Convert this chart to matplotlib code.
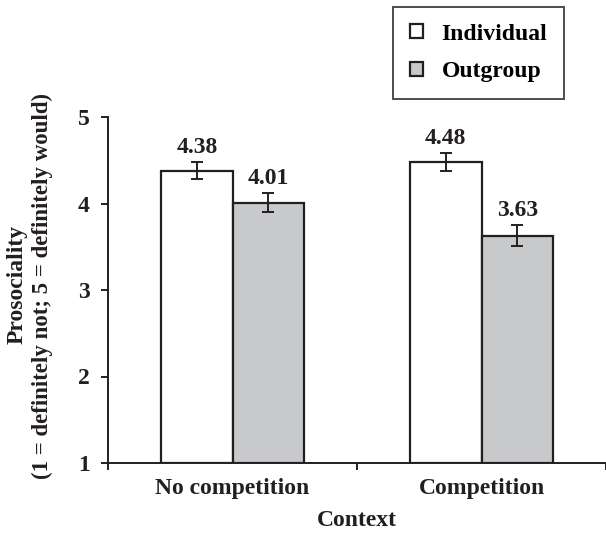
import matplotlib
matplotlib.use('Agg')
from matplotlib import pyplot as plt
from matplotlib.patches import Patch
import numpy as np

contexts = ['No competition', 'Competition']
individual = [4.38, 4.48]
outgroup = [4.01, 3.63]
individual_err = [0.10, 0.10]
outgroup_err = [0.11, 0.12]

plt.rcParams['font.family'] = ['Liberation Serif', 'DejaVu Serif']
plt.rcParams['font.weight'] = 'bold'
ink = '#231f20'
grey = '#c8c9cb'
fs = 17

fig = plt.figure(figsize=(6.06, 5.33), dpi=100)
ax = fig.add_axes([108 / 606, 70 / 533, 498 / 606, 346 / 533])

x = np.arange(len(contexts))
w = 0.287
ax.bar(x - w / 2, np.array(individual) - 1, w, bottom=1, color='white', edgecolor=ink, linewidth=1.6)
ax.bar(x + w / 2, np.array(outgroup) - 1, w, bottom=1, color=grey, edgecolor=ink, linewidth=1.6)
ax.errorbar(x - w / 2, individual, yerr=individual_err, fmt='none', ecolor=ink, elinewidth=1.4, capsize=4.5, capthick=1.4)
ax.errorbar(x + w / 2, outgroup, yerr=outgroup_err, fmt='none', ecolor=ink, elinewidth=1.4, capsize=4.5, capthick=1.4)

for xs, vals, errs in [(x - w / 2, individual, individual_err), (x + w / 2, outgroup, outgroup_err)]:
    for xi, v, e in zip(xs, vals, errs):
        ax.text(xi, v + e + 0.05, f'{v:.2f}', ha='center', va='bottom', fontsize=fs, fontweight='bold', color=ink)

ax.set_xlim(-0.5, 1.484)
ax.set_ylim(1, 5)
ax.set_yticks([1, 2, 3, 4, 5])
ax.set_xticks([-0.5, 0.5, 1.5])
ax.set_xticklabels([])
for xi, name in zip(x, contexts):
    ax.text(xi, 1 - 0.29, name, ha='center', va='center', fontsize=fs, fontweight='bold', color=ink)
ax.text(0.5, 1 - 0.67, 'Context', ha='center', va='center', fontsize=fs, fontweight='bold', color=ink)

ax.tick_params(axis='both', direction='out', length=5, width=1.4, colors=ink, labelsize=fs)
ax.tick_params(axis='y', pad=8)
for s in ['top', 'right']:
    ax.spines[s].set_visible(False)
for s in ['left', 'bottom']:
    ax.spines[s].set_linewidth(1.4)
    ax.spines[s].set_color(ink)

# two-line y label, placed line by line
fig.text(17 / 606, 1 - 284 / 533, 'Prosociality', rotation=90, ha='center', va='center',
         fontsize=fs, fontweight='bold', color=ink)
fig.text(42 / 606, 1 - 286 / 533, '(1 = definitely not; 5 = definitely would)', rotation=90, ha='center',
         va='center', fontsize=16.5, fontweight='bold', color=ink)

handles = [Patch(facecolor='white', edgecolor=ink, linewidth=1.6, label='Individual'),
           Patch(facecolor=grey, edgecolor=ink, linewidth=1.6, label='Outgroup')]
leg = fig.legend(handles=handles, loc='upper left', bbox_to_anchor=(393 / 606, 1 - 7 / 533),
                 frameon=True, fancybox=False, edgecolor=ink, fontsize=fs, handlelength=0.55, handleheight=0.55,
                 handletextpad=0.8, borderpad=0.7, labelspacing=0.7, borderaxespad=0)
leg.get_frame().set_linewidth(1.4)

fig.savefig('out.png', dpi=100)
